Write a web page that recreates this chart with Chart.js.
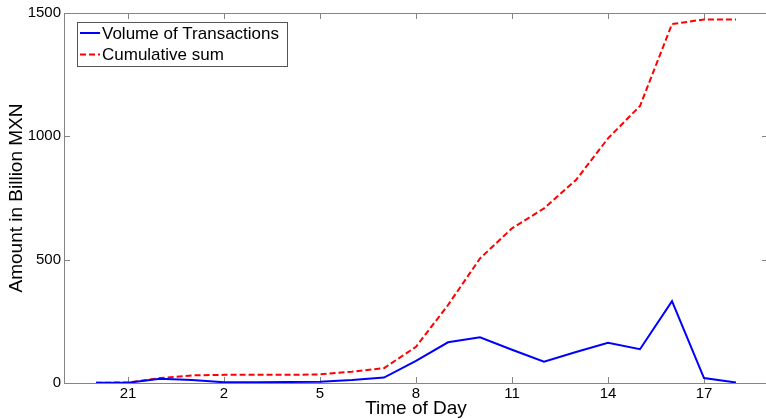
<!DOCTYPE html>
<html>
<head>
<meta charset="utf-8">
<script src="https://cdn.jsdelivr.net/npm/chart.js@4.4.1/dist/chart.umd.min.js"></script>
<style>
  html, body { margin: 0; padding: 0; background: #fff; overflow: hidden; }
</style>
</head>
<body>
<canvas id="myChart" width="772" height="419"></canvas>
<script>
// hourly values, one per interval (index 0..20)
var volume = [1, 1, 17, 12, 3, 3, 4, 5, 12, 22, 90, 165, 185, 135, 86, 126, 163, 137, 332, 20, 2];
var cumulative = [1, 2, 20, 31, 33, 33, 33, 35, 46, 60, 147, 316, 505, 627, 708, 823, 992, 1123, 1455, 1474, 1474];

// x tick positions (interval index) and their hour labels
var tickPos = [1, 4, 7, 10, 13, 16, 19];
var tickLabels = ['21', '2', '5', '8', '11', '14', '17'];
var yTicks = [0, 500, 1000, 1500];

var axisColor = '#858585';

function toPoints(arr) {
    var pts = [];
    for (var i = 0; i < arr.length; i++) {
        pts.push({ x: i, y: arr[i] });
    }
    return pts;
}

// matlab style box with inward ticks on all four sides
var boxPlugin = {
    id: 'boxTicks',
    beforeDatasetsDraw: function (chart) {
        var ctx = chart.ctx;
        var a = chart.chartArea;
        var xs = chart.scales.x;
        var ys = chart.scales.y;
        var len = 6;
        ctx.save();
        ctx.strokeStyle = axisColor;
        ctx.lineWidth = 1;
        ctx.beginPath();
        ctx.rect(Math.round(a.left) + 0.5, Math.round(a.top) + 0.5, a.right - a.left, a.bottom - a.top);
        for (var i = 0; i < tickPos.length; i++) {
            var px = Math.round(xs.getPixelForValue(tickPos[i])) + 0.5;
            ctx.moveTo(px, a.bottom);
            ctx.lineTo(px, a.bottom - len);
            ctx.moveTo(px, a.top);
            ctx.lineTo(px, a.top + len);
        }
        for (var j = 0; j < yTicks.length; j++) {
            var py = Math.round(ys.getPixelForValue(yTicks[j])) + 0.5;
            ctx.moveTo(a.left, py);
            ctx.lineTo(a.left + len, py);
            ctx.moveTo(a.right, py);
            ctx.lineTo(a.right - len, py);
        }
        ctx.stroke();
        ctx.restore();
    },
    afterDraw: function (chart) {
        // legend box in the upper left corner
        var ctx = chart.ctx;
        var bx = 77, by = 22, bw = 210, bh = 44;
        ctx.save();
        ctx.fillStyle = '#fff';
        ctx.fillRect(bx, by, bw, bh);
        ctx.strokeStyle = '#555';
        ctx.lineWidth = 1;
        ctx.strokeRect(bx + 0.5, by + 0.5, bw, bh);
        ctx.font = '17px "Liberation Sans", Arial, sans-serif';
        ctx.textBaseline = 'middle';
        ctx.fillStyle = '#000';
        var ds = chart.data.datasets;
        for (var i = 0; i < ds.length; i++) {
            var ly = by + 11 + i * 21.5;
            ctx.beginPath();
            ctx.strokeStyle = ds[i].borderColor;
            ctx.lineWidth = 2;
            ctx.setLineDash(ds[i].borderDash || []);
            ctx.moveTo(bx + 3, ly);
            ctx.lineTo(bx + 23, ly);
            ctx.stroke();
            ctx.setLineDash([]);
            ctx.fillText(ds[i].label, bx + 25, ly + 1);
        }
        ctx.restore();
    }
};

var ctx = document.getElementById('myChart');
var myChart = new Chart(ctx, {
    type: 'line',
    plugins: [boxPlugin],
    data: {
        datasets: [{
            label: 'Volume of Transactions',
            data: toPoints(volume),
            borderColor: '#0000ff',
            borderWidth: 2,
            pointRadius: 0,
            fill: false,
            tension: 0
        }, {
            label: 'Cumulative sum',
            data: toPoints(cumulative),
            borderColor: '#ff0000',
            borderWidth: 2,
            borderDash: [6, 3],
            pointRadius: 0,
            fill: false,
            tension: 0
        }]
    },
    options: {
        responsive: false,
        animation: false,
        devicePixelRatio: 1,
        layout: { padding: { left: 0, top: 13, right: 4, bottom: 0 } },
        plugins: {
            legend: { display: false },
            tooltip: { enabled: false }
        },
        scales: {
            x: {
                type: 'linear',
                min: -1,
                max: 21,
                grid: { display: false, drawTicks: false },
                border: { display: false },
                afterBuildTicks: function (scale) {
                    scale.ticks = tickPos.map(function (v) { return { value: v }; });
                },
                afterFit: function (scale) { scale.height = 36; },
                ticks: {
                    autoSkip: false,
                    maxRotation: 0,
                    padding: 2,
                    color: '#000',
                    font: { family: '"Liberation Sans", Arial, sans-serif', size: 15 },
                    callback: function (value) {
                        var k = tickPos.indexOf(value);
                        return k >= 0 ? tickLabels[k] : '';
                    }
                },
                title: {
                    display: true,
                    text: 'Time of Day',
                    color: '#000',
                    padding: { top: 0, bottom: 1 },
                    font: { family: '"Liberation Sans", Arial, sans-serif', size: 19, lineHeight: 1 }
                }
            },
            y: {
                min: 0,
                max: 1500,
                grid: { display: false, drawTicks: false },
                border: { display: false },
                afterBuildTicks: function (scale) {
                    scale.ticks = yTicks.map(function (v) { return { value: v }; });
                },
                afterFit: function (scale) { scale.width = 64; },
                ticks: {
                    padding: 3,
                    color: '#000',
                    font: { family: '"Liberation Sans", Arial, sans-serif', size: 15 },
                    callback: function (value) { return String(value); }
                },
                title: {
                    display: true,
                    text: 'Amount in Billion MXN',
                    color: '#000',
                    padding: { top: 7, bottom: 0 },
                    font: { family: '"Liberation Sans", Arial, sans-serif', size: 19, lineHeight: 1 }
                }
            }
        }
    }
});
</script>
</body>
</html>
